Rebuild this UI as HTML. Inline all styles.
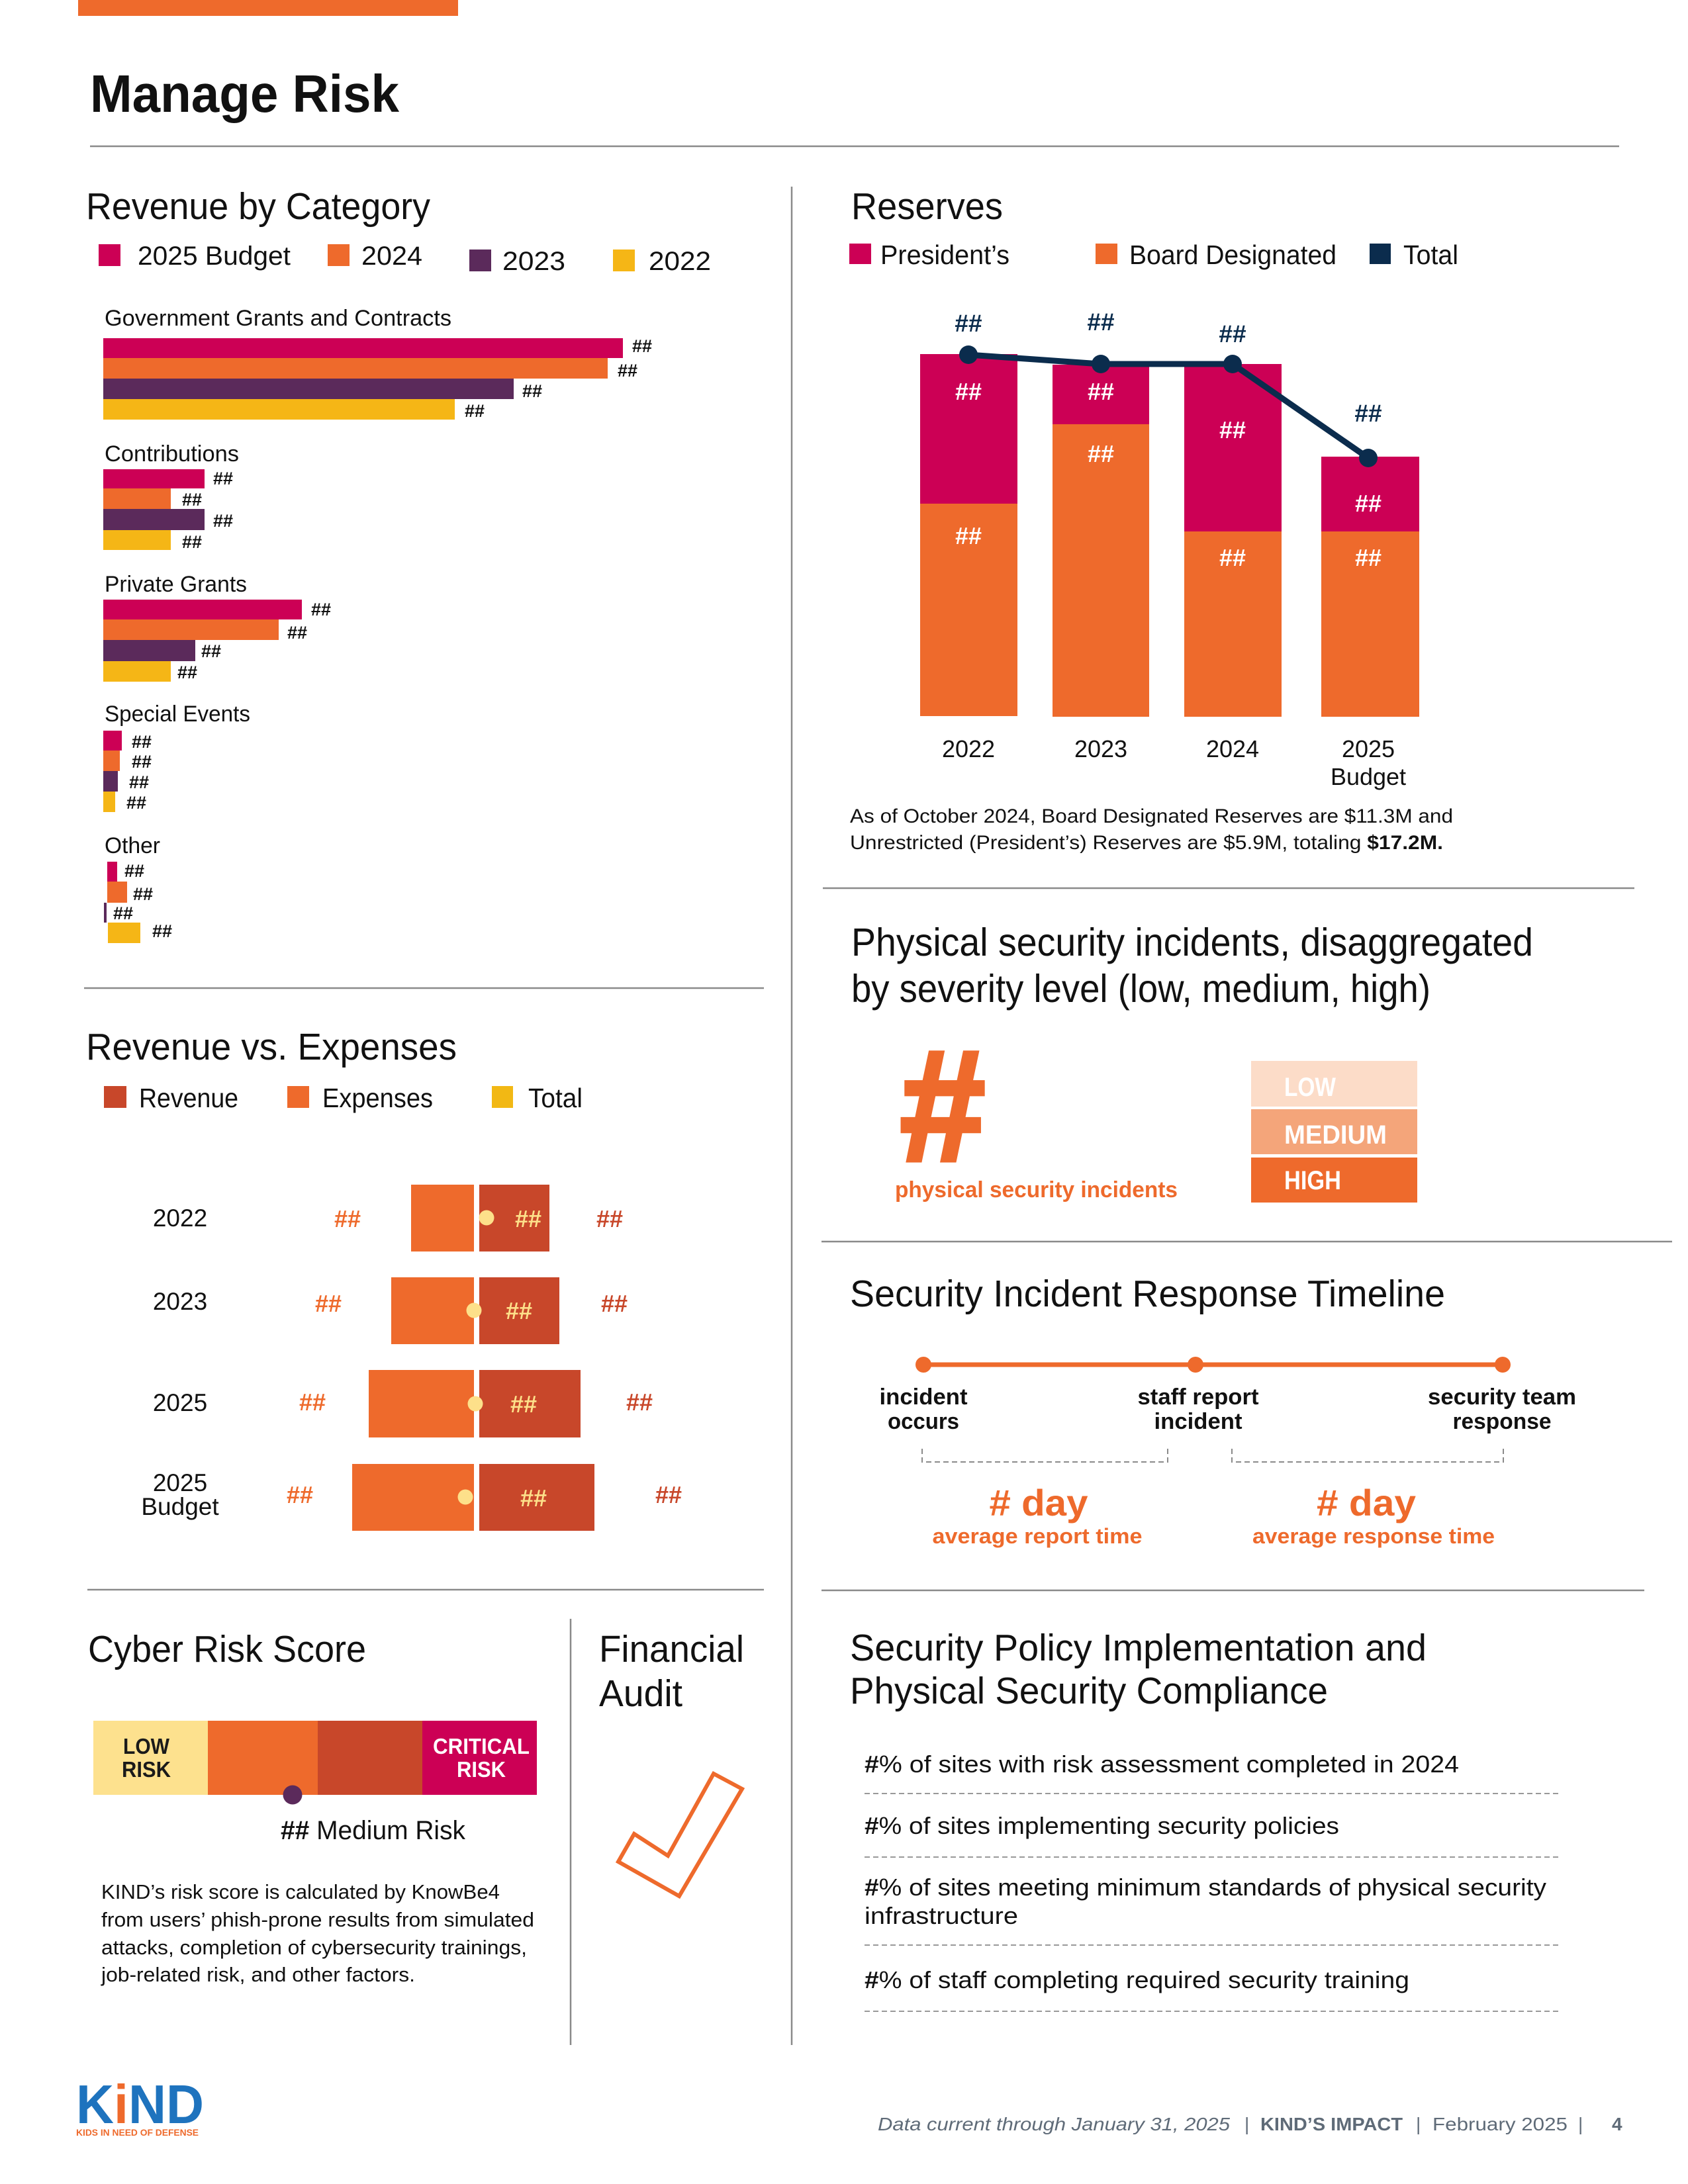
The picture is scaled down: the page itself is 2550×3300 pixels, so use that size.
<!DOCTYPE html>
<html>
<head>
<meta charset="utf-8">
<style>
html,body{margin:0;padding:0;background:#fff;}
svg{display:block;}
text{font-family:"Liberation Sans",Arial,sans-serif;}
.b{font-weight:bold;}
</style>
</head>
<body>
<svg width="2550" height="3300" viewBox="0 0 2550 3300" xmlns="http://www.w3.org/2000/svg">
<rect x="0" y="0" width="2550" height="3300" fill="#fff"/>

<!-- Top accent bar -->
<rect x="118" y="0" width="574" height="24" fill="#EE6A2C"/>

<!-- Title -->
<text x="136" y="169" font-size="80" class="b" fill="#111" textLength="467" lengthAdjust="spacingAndGlyphs">Manage Risk</text>
<line x1="136" y1="221" x2="2446" y2="221" stroke="#8a8a8a" stroke-width="2.5"/>

<!-- Main vertical divider -->
<line x1="1196" y1="282" x2="1196" y2="3090" stroke="#8a8a8a" stroke-width="2.5"/>

<!-- ================= Revenue by Category ================= -->
<text x="130" y="331" font-size="57" fill="#111" textLength="520" lengthAdjust="spacingAndGlyphs">Revenue by Category</text>
<rect x="149" y="369" width="33" height="33" fill="#CC0055"/>
<text x="208" y="400" font-size="40" fill="#111" textLength="231" lengthAdjust="spacingAndGlyphs">2025 Budget</text>
<rect x="495" y="369" width="33" height="33" fill="#EE6A2C"/>
<text x="546" y="400" font-size="40" fill="#111" textLength="92" lengthAdjust="spacingAndGlyphs">2024</text>
<rect x="709" y="377" width="33" height="33" fill="#5B2A5B"/>
<text x="759" y="408" font-size="40" fill="#111" textLength="95" lengthAdjust="spacingAndGlyphs">2023</text>
<rect x="926" y="377" width="33" height="33" fill="#F5B616"/>
<text x="980" y="408" font-size="40" fill="#111" textLength="94" lengthAdjust="spacingAndGlyphs">2022</text>

<g font-size="34" fill="#111">
<text x="158" y="492" textLength="524" lengthAdjust="spacingAndGlyphs">Government Grants and Contracts</text>
<text x="158" y="697" textLength="203" lengthAdjust="spacingAndGlyphs">Contributions</text>
<text x="158" y="894" textLength="215" lengthAdjust="spacingAndGlyphs">Private Grants</text>
<text x="158" y="1090" textLength="220" lengthAdjust="spacingAndGlyphs">Special Events</text>
<text x="158" y="1289" textLength="84" lengthAdjust="spacingAndGlyphs">Other</text>
</g>

<!-- Govt -->
<rect x="156" y="511" width="785" height="30" fill="#CC0055"/>
<rect x="156" y="541" width="762" height="31" fill="#EE6A2C"/>
<rect x="156" y="572" width="620" height="31" fill="#5B2A5B"/>
<rect x="156" y="603" width="531" height="31" fill="#F5B616"/>
<!-- Contributions -->
<rect x="156" y="709" width="153" height="29" fill="#CC0055"/>
<rect x="156" y="738" width="102" height="31" fill="#EE6A2C"/>
<rect x="156" y="769" width="153" height="32" fill="#5B2A5B"/>
<rect x="156" y="801" width="102" height="30" fill="#F5B616"/>
<!-- Private Grants -->
<rect x="156" y="906" width="300" height="30" fill="#CC0055"/>
<rect x="156" y="936" width="265" height="31" fill="#EE6A2C"/>
<rect x="156" y="967" width="139" height="32" fill="#5B2A5B"/>
<rect x="156" y="999" width="102" height="31" fill="#F5B616"/>
<!-- Special Events -->
<rect x="156" y="1104" width="28" height="30" fill="#CC0055"/>
<rect x="156" y="1134" width="25" height="31" fill="#EE6A2C"/>
<rect x="156" y="1165" width="22" height="31" fill="#5B2A5B"/>
<rect x="156" y="1196" width="18" height="31" fill="#F5B616"/>
<!-- Other -->
<rect x="162" y="1302" width="15" height="30" fill="#CC0055"/>
<rect x="162" y="1332" width="30" height="32" fill="#EE6A2C"/>
<rect x="157" y="1364" width="4" height="30" fill="#5B2A5B"/>
<rect x="163" y="1394" width="49" height="31" fill="#F5B616"/>

<g font-size="27" class="b" fill="#111">
<text x="955" y="532">##</text>
<text x="933" y="569">##</text>
<text x="789" y="600">##</text>
<text x="702" y="630">##</text>
<text x="322" y="732">##</text>
<text x="275" y="764">##</text>
<text x="322" y="796">##</text>
<text x="275" y="828">##</text>
<text x="470" y="930">##</text>
<text x="434" y="965">##</text>
<text x="304" y="993">##</text>
<text x="268" y="1025">##</text>
<text x="199" y="1130">##</text>
<text x="199" y="1160">##</text>
<text x="195" y="1191">##</text>
<text x="191" y="1222">##</text>
<text x="188" y="1325">##</text>
<text x="201" y="1360">##</text>
<text x="171" y="1389">##</text>
<text x="230" y="1416">##</text>
</g>

<line x1="127" y1="1493" x2="1154" y2="1493" stroke="#8a8a8a" stroke-width="2.5"/>

<!-- ================= Revenue vs. Expenses ================= -->
<text x="130" y="1601" font-size="57" fill="#111" textLength="560" lengthAdjust="spacingAndGlyphs">Revenue vs. Expenses</text>
<rect x="157" y="1641" width="34" height="33" fill="#C8472A"/>
<text x="210" y="1673" font-size="41" fill="#111" textLength="150" lengthAdjust="spacingAndGlyphs">Revenue</text>
<rect x="434" y="1641" width="33" height="33" fill="#EE6A2C"/>
<text x="487" y="1673" font-size="41" fill="#111" textLength="167" lengthAdjust="spacingAndGlyphs">Expenses</text>
<rect x="743" y="1641" width="32" height="33" fill="#F2B814"/>
<text x="798" y="1673" font-size="41" fill="#111" textLength="82" lengthAdjust="spacingAndGlyphs">Total</text>

<g font-size="37" fill="#111" text-anchor="middle">
<text x="272" y="1853">2022</text>
<text x="272" y="1979">2023</text>
<text x="272" y="2132">2025</text>
<text x="272" y="2253">2025</text>
<text x="272" y="2289">Budget</text>
</g>

<!-- rows -->
<rect x="621" y="1790" width="95" height="101" fill="#EE6A2C"/>
<rect x="724" y="1790" width="106" height="101" fill="#C8472A"/>
<rect x="591" y="1930" width="125" height="101" fill="#EE6A2C"/>
<rect x="724" y="1930" width="121" height="101" fill="#C8472A"/>
<rect x="557" y="2070" width="159" height="102" fill="#EE6A2C"/>
<rect x="724" y="2070" width="153" height="102" fill="#C8472A"/>
<rect x="532" y="2212" width="184" height="101" fill="#EE6A2C"/>
<rect x="724" y="2212" width="174" height="101" fill="#C8472A"/>
<g fill="#FDE08A">
<circle cx="735" cy="1840" r="11.5"/>
<circle cx="716" cy="1980" r="11.5"/>
<circle cx="718" cy="2121" r="11.5"/>
<circle cx="703" cy="2262" r="11.5"/>
</g>
<g font-size="36" class="b">
<text x="505" y="1854" fill="#EE6A2C">##</text>
<text x="901" y="1854" fill="#C8472A">##</text>
<text x="476" y="1982" fill="#EE6A2C">##</text>
<text x="908" y="1982" fill="#C8472A">##</text>
<text x="452" y="2131" fill="#EE6A2C">##</text>
<text x="946" y="2131" fill="#C8472A">##</text>
<text x="433" y="2271" fill="#EE6A2C">##</text>
<text x="990" y="2271" fill="#C8472A">##</text>
</g>
<g font-size="36" class="b" fill="#FDE08A" text-anchor="middle">
<text x="798" y="1854">##</text>
<text x="784" y="1993">##</text>
<text x="791" y="2134">##</text>
<text x="806" y="2276">##</text>
</g>

<line x1="132" y1="2402" x2="1154" y2="2402" stroke="#8a8a8a" stroke-width="2.5"/>

<!-- ================= Cyber Risk Score ================= -->
<text x="133" y="2511" font-size="57" fill="#111" textLength="420" lengthAdjust="spacingAndGlyphs">Cyber Risk Score</text>
<rect x="141" y="2600" width="173" height="112" fill="#FDE18E"/>
<rect x="314" y="2600" width="166" height="112" fill="#EE6A2C"/>
<rect x="480" y="2600" width="158" height="112" fill="#C8472A"/>
<rect x="638" y="2600" width="173" height="112" fill="#CC0055"/>
<g font-size="33" class="b" text-anchor="middle">
<text x="221" y="2650" fill="#1a1a1a" textLength="70" lengthAdjust="spacingAndGlyphs">LOW</text>
<text x="221" y="2685" fill="#1a1a1a" textLength="74" lengthAdjust="spacingAndGlyphs">RISK</text>
<text x="727" y="2650" fill="#fff" textLength="146" lengthAdjust="spacingAndGlyphs">CRITICAL</text>
<text x="727" y="2685" fill="#fff" textLength="74" lengthAdjust="spacingAndGlyphs">RISK</text>
</g>
<circle cx="442" cy="2712" r="14.5" fill="#5B2A5B"/>
<text x="424" y="2779" font-size="40" fill="#111" textLength="279" lengthAdjust="spacingAndGlyphs"><tspan class="b">##</tspan> Medium Risk</text>
<g font-size="31" fill="#111">
<text x="153" y="2869" textLength="602" lengthAdjust="spacingAndGlyphs">KIND’s risk score is calculated by KnowBe4</text>
<text x="153" y="2911" textLength="654" lengthAdjust="spacingAndGlyphs">from users’ phish-prone results from simulated</text>
<text x="153" y="2953" textLength="643" lengthAdjust="spacingAndGlyphs">attacks, completion of cybersecurity trainings,</text>
<text x="153" y="2994" textLength="474" lengthAdjust="spacingAndGlyphs">job-related risk, and other factors.</text>
</g>

<!-- Financial Audit -->
<line x1="862" y1="2446" x2="862" y2="3090" stroke="#8a8a8a" stroke-width="2.5"/>
<text x="905" y="2511" font-size="57" fill="#111" textLength="219" lengthAdjust="spacingAndGlyphs">Financial</text>
<text x="905" y="2578" font-size="57" fill="#111" textLength="126" lengthAdjust="spacingAndGlyphs">Audit</text>
<polygon points="934,2813 958,2771 1009,2804 1078,2680 1121,2703 1026,2865" fill="none" stroke="#EE6A2C" stroke-width="6" stroke-linejoin="miter"/>

<!-- ================= Reserves ================= -->
<text x="1286" y="331" font-size="57" fill="#111" textLength="229" lengthAdjust="spacingAndGlyphs">Reserves</text>
<rect x="1283" y="368" width="33" height="31" fill="#CC0055"/>
<text x="1330" y="399" font-size="41" fill="#111" textLength="195" lengthAdjust="spacingAndGlyphs">President’s</text>
<rect x="1655" y="368" width="33" height="31" fill="#EE6A2C"/>
<text x="1706" y="399" font-size="41" fill="#111" textLength="313" lengthAdjust="spacingAndGlyphs">Board Designated</text>
<rect x="2069" y="368" width="32" height="31" fill="#0B2C4D"/>
<text x="2120" y="399" font-size="41" fill="#111" textLength="83" lengthAdjust="spacingAndGlyphs">Total</text>

<rect x="1390" y="535" width="147" height="226" fill="#CC0055"/>
<rect x="1390" y="761" width="147" height="321" fill="#EE6A2C"/>
<rect x="1590" y="551" width="146" height="90" fill="#CC0055"/>
<rect x="1590" y="641" width="146" height="442" fill="#EE6A2C"/>
<rect x="1789" y="550" width="147" height="253" fill="#CC0055"/>
<rect x="1789" y="803" width="147" height="280" fill="#EE6A2C"/>
<rect x="1996" y="690" width="148" height="113" fill="#CC0055"/>
<rect x="1996" y="803" width="148" height="280" fill="#EE6A2C"/>

<polyline points="1463,536 1663,550 1862,550 2067,692" fill="none" stroke="#0B2C4D" stroke-width="9" stroke-linejoin="round"/>
<g fill="#0B2C4D">
<circle cx="1463" cy="536" r="14"/>
<circle cx="1663" cy="550" r="14"/>
<circle cx="1862" cy="550" r="14"/>
<circle cx="2067" cy="692" r="14"/>
</g>
<g font-size="37" class="b" text-anchor="middle" fill="#0B2C4D">
<text x="1463" y="501">##</text>
<text x="1663" y="499">##</text>
<text x="1862" y="517">##</text>
<text x="2067" y="637">##</text>
</g>
<g font-size="36" class="b" text-anchor="middle" fill="#fff">
<text x="1463" y="604">##</text>
<text x="1463" y="822">##</text>
<text x="1663" y="604">##</text>
<text x="1663" y="698">##</text>
<text x="1862" y="662">##</text>
<text x="1862" y="855">##</text>
<text x="2067" y="773">##</text>
<text x="2067" y="855">##</text>
</g>
<g font-size="36" fill="#111" text-anchor="middle">
<text x="1463" y="1144">2022</text>
<text x="1663" y="1144">2023</text>
<text x="1862" y="1144">2024</text>
<text x="2067" y="1144">2025</text>
<text x="2067" y="1186">Budget</text>
</g>
<text x="1284" y="1243" font-size="30" fill="#111" textLength="911" lengthAdjust="spacingAndGlyphs">As of October 2024, Board Designated Reserves are $11.3M and</text>
<text x="1284" y="1283" font-size="30" fill="#111" textLength="896" lengthAdjust="spacingAndGlyphs">Unrestricted (President’s) Reserves are $5.9M, totaling <tspan class="b">$17.2M.</tspan></text>

<line x1="1243" y1="1342" x2="2469" y2="1342" stroke="#8a8a8a" stroke-width="2.5"/>

<!-- ================= Physical security incidents ================= -->
<text x="1286" y="1444" font-size="59" fill="#111" textLength="1030" lengthAdjust="spacingAndGlyphs">Physical security incidents, disaggregated</text>
<text x="1286" y="1514" font-size="59" fill="#111" textLength="875" lengthAdjust="spacingAndGlyphs">by severity level (low, medium, high)</text>
<text x="1424" y="1753" font-size="238" class="b" fill="#EE6A2C" stroke="#EE6A2C" stroke-width="7" text-anchor="middle" textLength="128" lengthAdjust="spacingAndGlyphs">#</text>
<text x="1352" y="1809" font-size="34" class="b" fill="#EE6A2C" textLength="427" lengthAdjust="spacingAndGlyphs">physical security incidents</text>
<rect x="1890" y="1603" width="251" height="69" fill="#FCDCC8"/>
<rect x="1890" y="1676" width="251" height="68" fill="#F4A57A"/>
<rect x="1890" y="1749" width="251" height="68" fill="#EE6A2C"/>
<g font-size="40" class="b" fill="#fff">
<text x="1940" y="1656" textLength="78" lengthAdjust="spacingAndGlyphs">LOW</text>
<text x="1940" y="1728" textLength="155" lengthAdjust="spacingAndGlyphs">MEDIUM</text>
<text x="1940" y="1797" textLength="86" lengthAdjust="spacingAndGlyphs">HIGH</text>
</g>

<line x1="1241" y1="1876" x2="2526" y2="1876" stroke="#8a8a8a" stroke-width="2.5"/>

<!-- ================= Timeline ================= -->
<text x="1284" y="1974" font-size="57" fill="#111" textLength="899" lengthAdjust="spacingAndGlyphs">Security Incident Response Timeline</text>
<line x1="1395" y1="2062" x2="2270" y2="2062" stroke="#EE6A2C" stroke-width="7"/>
<g fill="#EE6A2C">
<circle cx="1395" cy="2062" r="12"/>
<circle cx="1806" cy="2062" r="12"/>
<circle cx="2270" cy="2062" r="12"/>
</g>
<g font-size="34" class="b" fill="#111" text-anchor="middle">
<text x="1395" y="2122" textLength="133" lengthAdjust="spacingAndGlyphs">incident</text>
<text x="1395" y="2159" textLength="108" lengthAdjust="spacingAndGlyphs">occurs</text>
<text x="1810" y="2122" textLength="183" lengthAdjust="spacingAndGlyphs">staff report</text>
<text x="1810" y="2159" textLength="133" lengthAdjust="spacingAndGlyphs">incident</text>
<text x="2269" y="2122" textLength="224" lengthAdjust="spacingAndGlyphs">security team</text>
<text x="2269" y="2159" textLength="149" lengthAdjust="spacingAndGlyphs">response</text>
</g>
<path d="M1393,2189 V2209 H1764 V2189" fill="none" stroke="#8a8a8a" stroke-width="2" stroke-dasharray="8,5"/>
<path d="M1861,2189 V2209 H2271 V2189" fill="none" stroke="#8a8a8a" stroke-width="2" stroke-dasharray="8,5"/>
<g class="b" fill="#EE6A2C" text-anchor="middle">
<text x="1569" y="2290" font-size="56" textLength="149" lengthAdjust="spacingAndGlyphs"># day</text>
<text x="1567" y="2332" font-size="32" textLength="317" lengthAdjust="spacingAndGlyphs">average report time</text>
<text x="2064" y="2290" font-size="56" textLength="150" lengthAdjust="spacingAndGlyphs"># day</text>
<text x="2075" y="2332" font-size="32" textLength="366" lengthAdjust="spacingAndGlyphs">average response time</text>
</g>

<line x1="1241" y1="2403" x2="2484" y2="2403" stroke="#8a8a8a" stroke-width="2.5"/>

<!-- ================= Security Policy ================= -->
<text x="1284" y="2509" font-size="57" fill="#111" textLength="871" lengthAdjust="spacingAndGlyphs">Security Policy Implementation and</text>
<text x="1284" y="2574" font-size="57" fill="#111" textLength="722" lengthAdjust="spacingAndGlyphs">Physical Security Compliance</text>
<g font-size="36" fill="#111">
<text x="1306" y="2678" textLength="898" lengthAdjust="spacingAndGlyphs"><tspan class="b">#</tspan>% of sites with risk assessment completed in 2024</text>
<text x="1306" y="2771" textLength="717" lengthAdjust="spacingAndGlyphs"><tspan class="b">#</tspan>% of sites implementing security policies</text>
<text x="1306" y="2864" textLength="1030" lengthAdjust="spacingAndGlyphs"><tspan class="b">#</tspan>% of sites meeting minimum standards of physical security</text>
<text x="1306" y="2907" textLength="232" lengthAdjust="spacingAndGlyphs">infrastructure</text>
<text x="1306" y="3004" textLength="823" lengthAdjust="spacingAndGlyphs"><tspan class="b">#</tspan>% of staff completing required security training</text>
</g>
<g stroke="#999" stroke-width="2" stroke-dasharray="8,5">
<line x1="1306" y1="2710" x2="2354" y2="2710"/>
<line x1="1306" y1="2806" x2="2354" y2="2806"/>
<line x1="1306" y1="2939" x2="2354" y2="2939"/>
<line x1="1306" y1="3039" x2="2354" y2="3039"/>
</g>

<!-- ================= Footer ================= -->
<text x="115" y="3208" font-size="83" class="b" fill="#1E73BE" textLength="193" lengthAdjust="spacingAndGlyphs">K<tspan fill="#EE6A2C">i</tspan>ND</text>
<text x="115" y="3227" font-size="14" class="b" fill="#EE6A2C" textLength="185" lengthAdjust="spacingAndGlyphs">KIDS IN NEED OF DEFENSE</text>

<g font-size="28" fill="#5F6B78">
<text x="1326" y="3219" font-style="italic" textLength="532" lengthAdjust="spacingAndGlyphs">Data current through January 31, 2025</text>
<text x="1880" y="3219">|</text>
<text x="1904" y="3219" class="b" textLength="215" lengthAdjust="spacingAndGlyphs">KIND’S IMPACT</text>
<text x="2139" y="3219">|</text>
<text x="2164" y="3219" textLength="204" lengthAdjust="spacingAndGlyphs">February 2025</text>
<text x="2384" y="3219">|</text>
<text x="2435" y="3219" class="b">4</text>
</g>
</svg>
</body>
</html>
